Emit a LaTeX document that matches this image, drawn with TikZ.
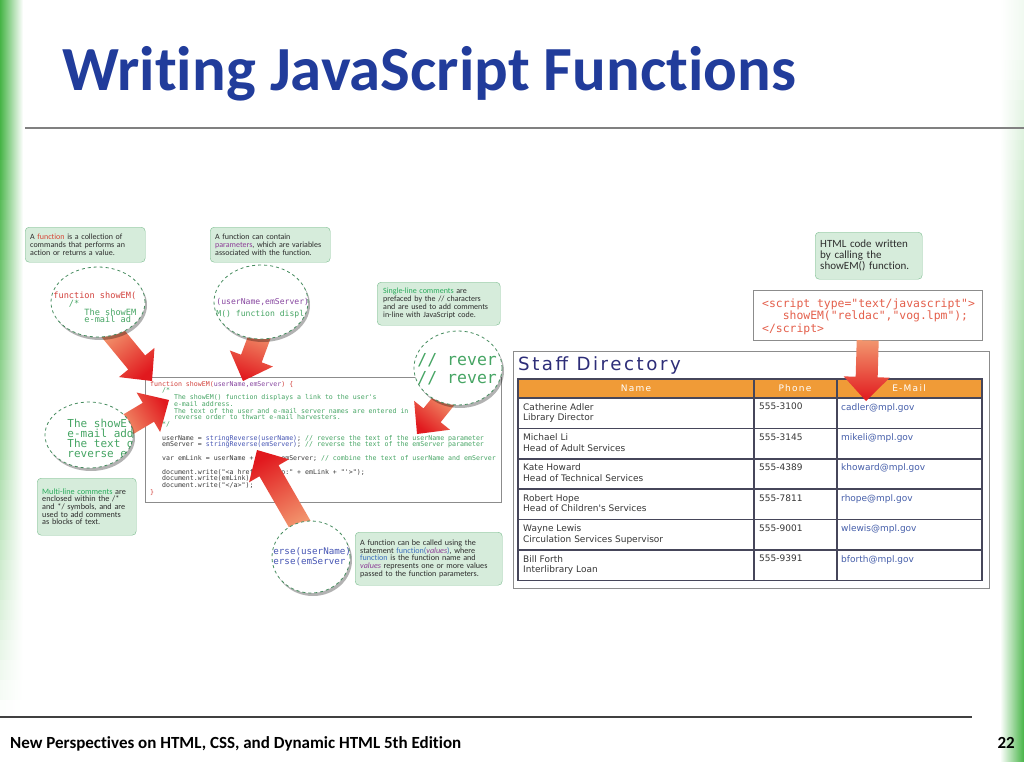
\documentclass[tikz,border=0pt]{standalone}
\usepackage{fontspec}
\setmainfont{Carlito}[Ligatures={NoCommon}]
\setmonofont{DejaVu Sans Mono}
\newfontfamily\tablefont{DejaVu Sans}
\newfontfamily\spacedfont[LetterSpace=14]{DejaVu Sans}
\usetikzlibrary{positioning, calc, shapes.geometric, shadows}

\definecolor{SlideGreen}{RGB}{70,180,70}
\definecolor{TitleBlue}{RGB}{33,60,155}
\definecolor{RuleGray}{RGB}{128,128,128}
\definecolor{NoteFill}{RGB}{214,236,219}
\definecolor{NoteBorder}{RGB}{125,190,145}
\definecolor{NoteText}{RGB}{45,45,45}
\definecolor{NoteRed}{RGB}{215,70,55}
\definecolor{NotePurple}{RGB}{140,60,150}
\definecolor{NoteGreen}{RGB}{40,170,90}
\definecolor{NoteBlue}{RGB}{60,110,190}
\definecolor{LensGreen}{RGB}{70,140,95}
\definecolor{CodeRed}{RGB}{210,65,60}
\definecolor{CodePurple}{RGB}{135,70,160}
\definecolor{CodeGreen}{RGB}{70,165,100}
\definecolor{CodeBlue}{RGB}{70,85,180}
\definecolor{CodeBlack}{RGB}{60,60,60}
\definecolor{ArrowTail}{RGB}{242,150,110}
\definecolor{ArrowTip}{RGB}{225,25,30}
\definecolor{ScriptRed}{RGB}{228,95,75}
\definecolor{PanelGray}{RGB}{140,140,140}
\definecolor{HeaderOrange}{RGB}{240,155,55}
\definecolor{DirNavy}{RGB}{45,45,120}
\definecolor{TableLine}{RGB}{70,70,90}
\definecolor{TableText}{RGB}{55,55,55}
\definecolor{MailBlue}{RGB}{70,95,170}

\tikzstyle{note} = [draw=NoteBorder, fill=NoteFill, rounded corners=4pt, anchor=north west, align=left, inner xsep=5pt, inner ysep=2pt, text=NoteText, font=\fontsize{8}{8}\selectfont]
\tikzstyle{lens} = [ellipse, draw=LensGreen, thick, dashed, fill=white, inner sep=0pt, drop shadow={shadow xshift=2pt, shadow yshift=-3pt, opacity=0.3, fill=black}]
\tikzstyle{lenstext} = [rectangle, draw=none, fill=none, minimum width=0pt, minimum height=0pt, anchor=west, inner sep=0pt, align=left]
\tikzstyle{codetext} = [anchor=north west, inner sep=0pt, align=left, text=CodeBlack, font=\ttfamily\fontsize{6.6}{6.7}\selectfont]
\tikzstyle{celltext} = [anchor=north west, inner sep=0pt, align=left, text=TableText, font=\tablefont\fontsize{9}{10.7}\selectfont]
\tikzstyle{headtext} = [inner sep=0pt, text=white, font=\spacedfont\fontsize{9}{9}\selectfont]
\tikzstyle{tablerule} = [TableLine, line width=1.6pt]

% tail, tip, shading angle
\newcommand{\fatarrow}[3]{%
  \coordinate (neck) at ($(#2)!24pt!(#1)$);
  \shade[bottom color=ArrowTail, top color=ArrowTip, shading angle=#3]
    ($(#1)!11pt!90:(#2)$) -- ($(neck)!11pt!90:(#2)$) -- ($(neck)!23pt!90:(#2)$)
    -- (#2) -- ($(neck)!23pt!-90:(#2)$) -- ($(neck)!11pt!-90:(#2)$)
    -- ($(#1)!11pt!-90:(#2)$) -- cycle;
}

\begin{document}
\begin{tikzpicture}[x=1pt, y=-1pt]
  \useasboundingbox (0,0) rectangle (1024,768);
  \fill[white] (0,0) rectangle (1024,768);

  % Side bars
  \foreach \i in {0,...,37} {
    \pgfmathsetmacro\p{max(0,min(100,(710-\i*20)/5.7))}
    \shade[left color=SlideGreen!\p!white, right color=white] (0,\i*20) rectangle (23,\i*20+21);
    \pgfmathsetmacro\q{max(8,min(100,(\i*20+10)/7.2))}
    \shade[left color=white, right color=SlideGreen!\q!white] (1000,\i*20) rectangle (1024,\i*20+21);
  }

  % Title and footer
  \node[anchor=base west, inner sep=0pt, text=TitleBlue, font=\bfseries\fontsize{62.8}{70}\selectfont] (title) at (62,90) {Writing JavaScript Functions};
  \draw[RuleGray, line width=2pt] (25,128) -- (1024,128);
  \draw[black!75, line width=1.5pt] (0,717) -- (972,717);
  \node[anchor=base west, inner sep=0pt, font=\bfseries\fontsize{17}{18}\selectfont] (footer) at (10,748) {New Perspectives on HTML, CSS, and Dynamic HTML 5th Edition};
  \node[anchor=base east, inner sep=0pt, font=\bfseries\fontsize{17}{18}\selectfont] (pagenum) at (1015,748) {22};

  % Code listing
  \node[draw=PanelGray, minimum width=356, minimum height=125, anchor=north west, inner sep=0pt] (codebox) at (145,377) {};
  \node[codetext] (codetext) at (150,381) {%
    \textcolor{CodeRed}{function showEM(}\textcolor{CodePurple}{userName,emServer}\textcolor{CodeRed}{) \{}\\
    \textcolor{CodeGreen}{~~~/*}\\
    \textcolor{CodeGreen}{~~~~~~The showEM() function displays a link to the user's}\\
    \textcolor{CodeGreen}{~~~~~~e-mail address.}\\
    \textcolor{CodeGreen}{~~~~~~The text of the user and e-mail server names are entered in}\\
    \textcolor{CodeGreen}{~~~~~~reverse order to thwart e-mail harvesters.}\\
    \textcolor{CodeGreen}{~~~*/}\\[7pt]
    ~~~userName = \textcolor{CodeBlue}{stringReverse(userName)}; \textcolor{CodeGreen}{// reverse the text of the userName parameter}\\
    ~~~emServer = \textcolor{CodeBlue}{stringReverse(emServer)}; \textcolor{CodeGreen}{// reverse the text of the emServer parameter}\\[7pt]
    ~~~var emLink = userName + "@" + emServer; \textcolor{CodeGreen}{// combine the text of userName and emServer}\\[7pt]
    ~~~document.write("<a href='mailto:" + emLink + "'>");\\
    ~~~document.write(emLink);\\
    ~~~document.write("</a>");\\
    \textcolor{CodeRed}{\}}};

  % Arrows into the listing
  \coordinate (tailA) at (110,330);  \coordinate (tipA) at (152,381);
  \coordinate (tailB) at (262,330);  \coordinate (tipB) at (243,381);
  \coordinate (tailC) at (446,398);  \coordinate (tipC) at (417,434);
  \coordinate (tailD) at (122,428);  \coordinate (tipD) at (169,400);
  \coordinate (tailE) at (302,528);  \coordinate (tipE) at (257,450);
  \fatarrow{tailA}{tipA}{-140.5}
  \fatarrow{tailB}{tipB}{159.6}
  \fatarrow{tailC}{tipC}{141}
  \fatarrow{tailD}{tipD}{-59.2}
  \fatarrow{tailE}{tipE}{30}

  % Magnified views
  \node[lens, minimum width=94, minimum height=70, path picture={
      \node[lenstext, font=\ttfamily\fontsize{8.6}{7}\selectfont] (lensAtext) at ([shift={(2,5)}]path picture bounding box.west)
        {\textcolor{CodeRed}{function showEM(}\\\textcolor{CodeGreen}{~~~/*}\\\textcolor{CodeGreen}{~~~~~~The showEM}\\\textcolor{CodeGreen}{~~~~~~e-mail ad}};}] (lensA) at (98,302) {};
  \node[lens, minimum width=94, minimum height=74, path picture={
      \node[lenstext, font=\ttfamily\fontsize{8.1}{12}\selectfont] (lensBtext) at ([shift={(2,6)}]path picture bounding box.west)
        {\textcolor{CodePurple}{(userName,emServer)}\\\textcolor{CodeGreen}{M() function displ}};}] (lensB) at (261,302) {};
  \node[lens, minimum width=88, minimum height=74, path picture={
      \node[lenstext, font=\ttfamily\fontsize{16.5}{18}\selectfont, text=CodeGreen] (lensCtext) at ([shift={(3,1)}]path picture bounding box.west)
        {// rever\\// rever};}] (lensC) at (458,368) {};
  \node[lens, minimum width=88, minimum height=66, path picture={
      \node[lenstext, font=\ttfamily\fontsize{11}{9.8}\selectfont, text=CodeGreen] (lensDtext) at ([shift={(22,3.5)}]path picture bounding box.west)
        {The showE\\e-mail add\\The text o\\reverse e};}] (lensD) at (89,435) {};
  \node[lens, minimum width=78, minimum height=72, path picture={
      \node[lenstext, font=\ttfamily\fontsize{9.2}{10}\selectfont, text=CodeBlue] (lensEtext) at ([shift={(1,0)}]path picture bounding box.west)
        {erse(userName)\\erse(emServer};}] (lensE) at (311,557) {};

  % Callouts
  \node[note, text width=110, minimum height=35] (noteFunction) at (25,227)
    {A \textcolor{NoteRed}{function} is a collection of\\commands that performs an\\action or returns a value.};
  \node[note, text width=110, minimum height=35] (noteParams) at (210,227)
    {A function can contain\\\textcolor{NotePurple}{parameters}, which are variables\\associated with the function.};
  \node[note, text width=111, minimum height=43, inner xsep=6pt] (noteSingle) at (377,282)
    {\textcolor{NoteGreen}{Single-line comments} are\\prefaced by the // characters\\and are used to add comments\\in-line with JavaScript code.};
  \node[note, text width=89, minimum height=57, font=\fontsize{8.2}{7.6}\selectfont] (noteMulti) at (37,478)
    {\textcolor{NoteGreen}{Multi-line comments} are\\enclosed within the /*\\and */ symbols, and are\\used to add comments\\as blocks of text.};
  \node[note, text width=137, minimum height=53, font=\fontsize{8.1}{7.6}\selectfont] (noteCall) at (355,532)
    {A function can be called using the\\statement \textcolor{NoteBlue}{function(}\textcolor{NotePurple}{\textit{values}}\textcolor{NoteBlue}{)}, where\\\textcolor{NoteBlue}{function} is the function name and\\\textcolor{NotePurple}{\textit{values}} represents one or more values\\passed to the function parameters.};
  \node[note, text width=97, minimum height=47, font=\fontsize{11}{11}\selectfont] (noteHtml) at (815,232)
    {HTML code written\\by calling the\\showEM() function.};

  % Generated HTML
  \node[draw=PanelGray, minimum width=229, minimum height=50, anchor=north west, inner sep=0pt] (scriptbox) at (753,290) {};
  \node[anchor=north west, inner sep=0pt, align=left, text=ScriptRed, font=\ttfamily\fontsize{11.4}{9.3}\selectfont] (scripttext) at (762,299)
    {<script type="text/javascript">\\~~~showEM("reldac","vog.lpm");\\</script>};

  % Staff directory page
  \node[draw=PanelGray, minimum width=476, minimum height=237, anchor=north west, inner sep=0pt] (panel) at (513,351) {};
  \node[anchor=base west, inner sep=0pt, text=DirNavy, font=\spacedfont\fontsize{18.2}{18}\selectfont] (dirtitle) at (518,370) {Staff Directory};
  \fill[HeaderOrange] (518,379) rectangle (982,398);
  \node[headtext] (headName) at (636,388.5) {Name};
  \node[headtext] (headPhone) at (795,388.5) {Phone};
  \node[headtext] (headMail) at (909,388.5) {E-Mail};
  \foreach \nm/\job/\ph/\mail [count=\r] in {
      Catherine Adler/Library Director/555-3100/cadler@mpl.gov,
      Michael Li/Head of Adult Services/555-3145/mikeli@mpl.gov,
      Kate Howard/Head of Technical Services/555-4389/khoward@mpl.gov,
      Robert Hope/Head of Children's Services/555-7811/rhope@mpl.gov,
      Wayne Lewis/Circulation Services Supervisor/555-9001/wlewis@mpl.gov,
      Bill Forth/Interlibrary Loan/555-9391/bforth@mpl.gov} {
    \pgfmathsetmacro\rowtop{398+(\r-1)*30.4}
    \node[celltext] (name\r) at (523,\rowtop+5) {\nm\\\job};
    \node[celltext] (phone\r) at (759,\rowtop+5) {\ph};
    \node[celltext, text=MailBlue] (mail\r) at (841,\rowtop+5) {\mail};
  }
  \draw[tablerule] (518,379) rectangle (982,580.5);
  \foreach \r in {0,...,5} \draw[tablerule] (518,398+\r*30.4) -- (982,398+\r*30.4);
  \draw[tablerule] (754,379) -- (754,580.5);
  \draw[tablerule] (837,379) -- (837,580.5);

  % Arrow from HTML code to the page
  \coordinate (tipF) at (866,401);
  \fatarrow{scriptbox.south}{tipF}{180}
\end{tikzpicture}
\end{document}
